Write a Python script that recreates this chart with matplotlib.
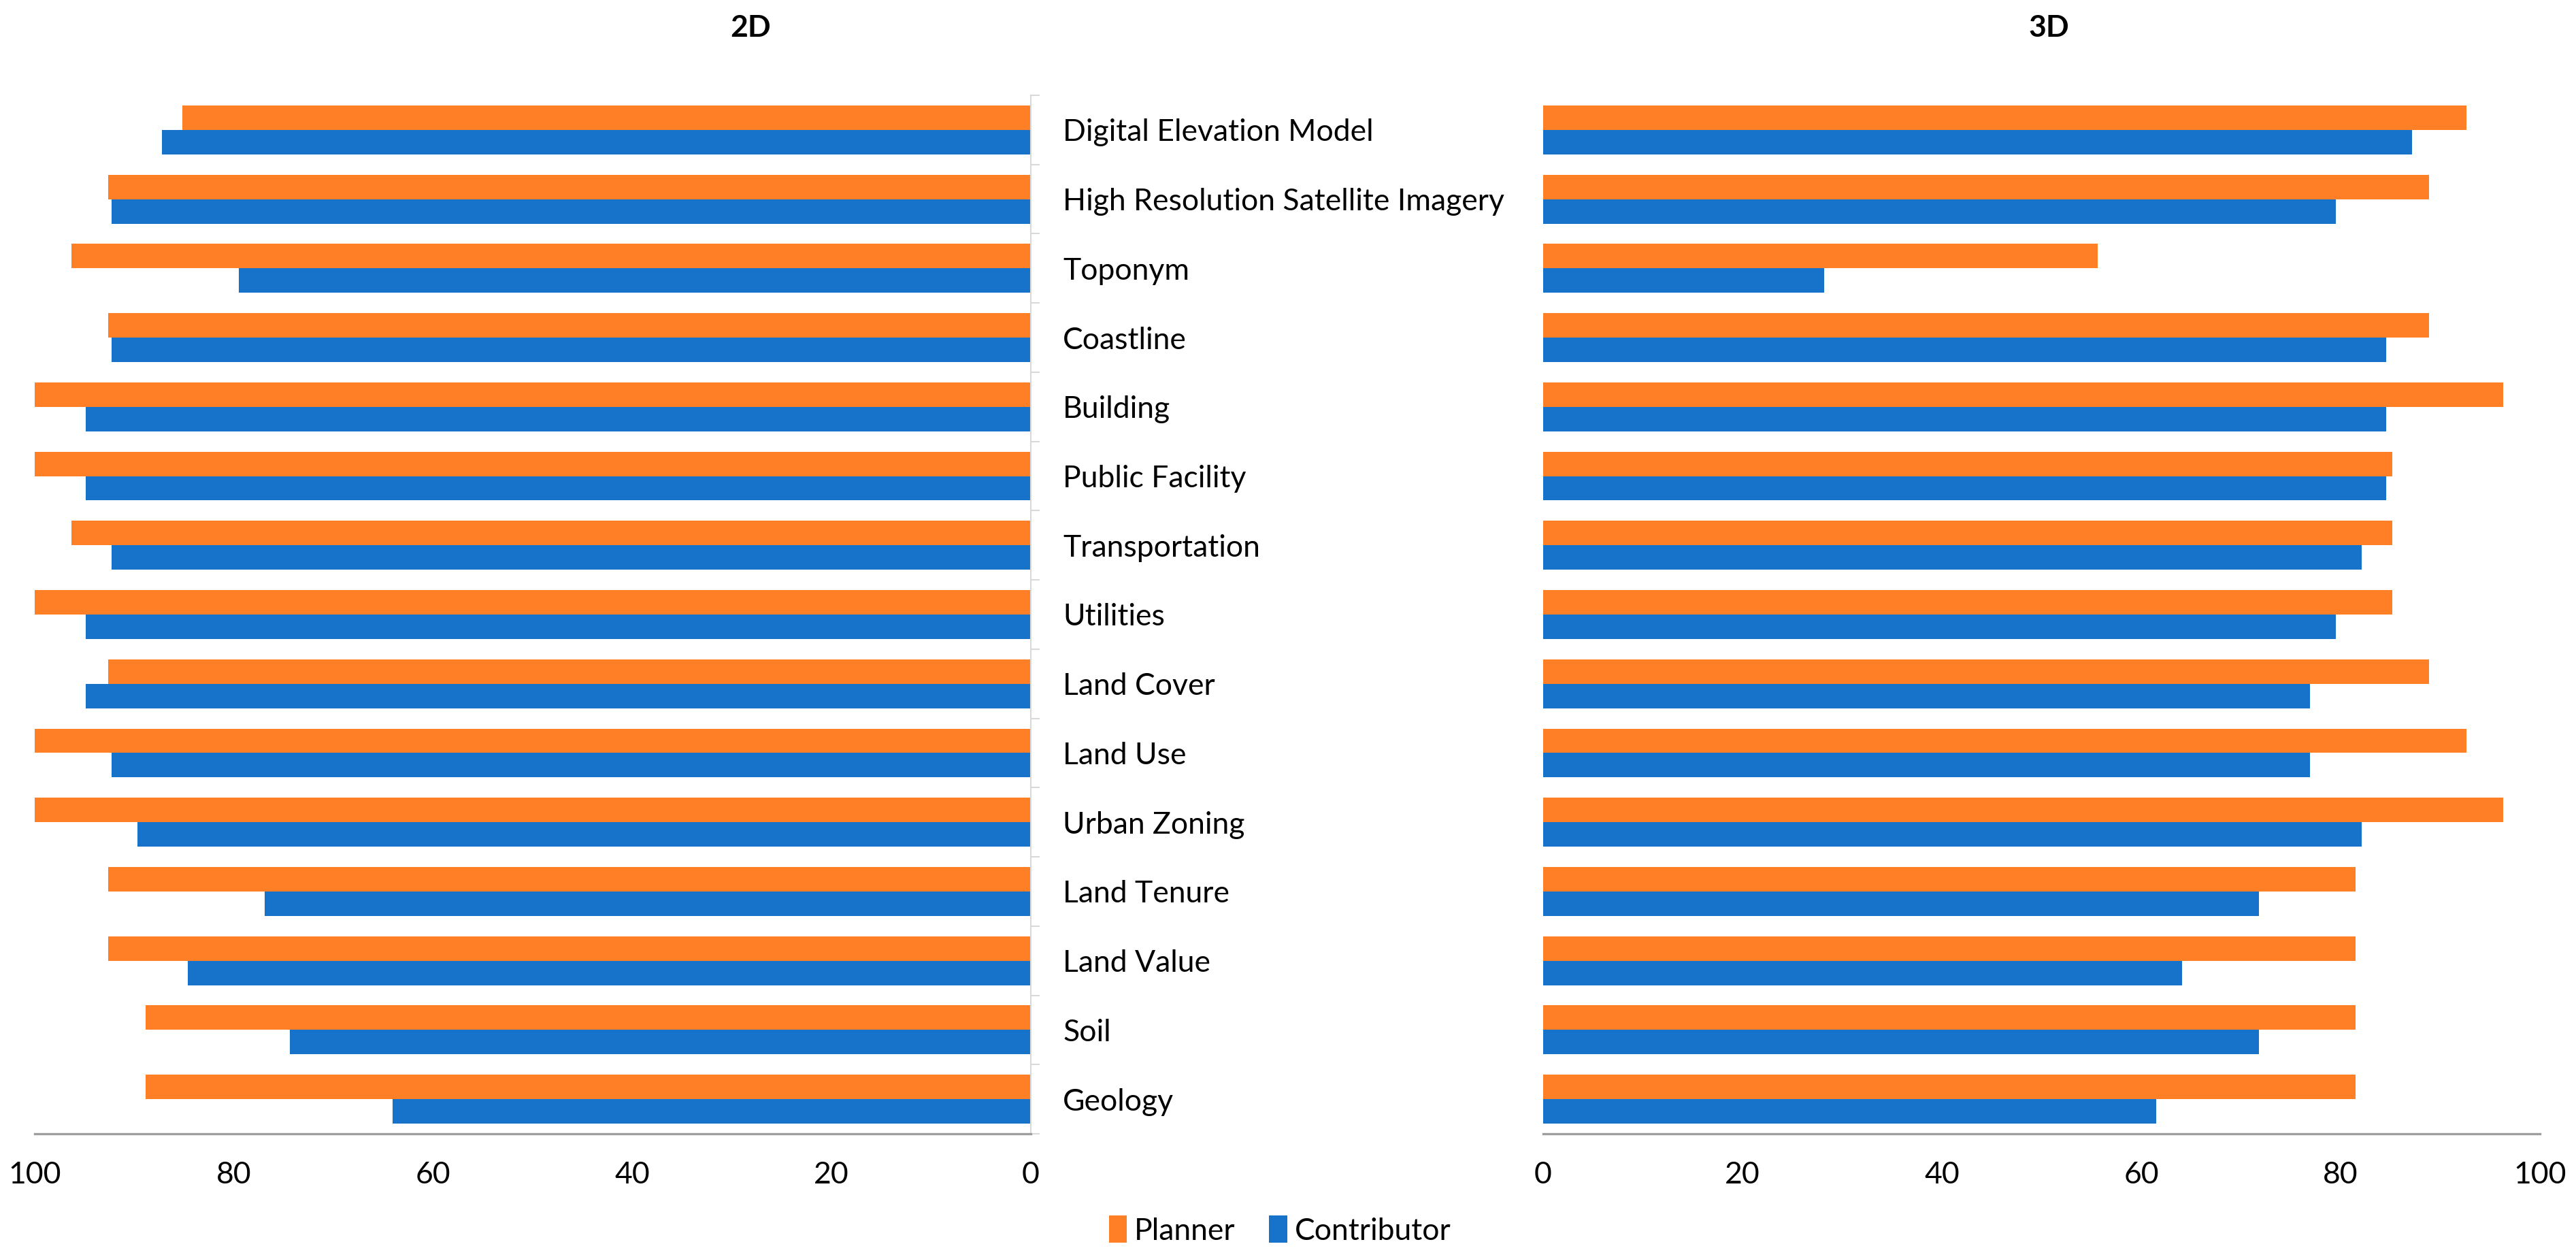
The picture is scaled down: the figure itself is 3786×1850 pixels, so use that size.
import matplotlib
matplotlib.use("Agg")
import matplotlib.pyplot as plt
import numpy as np

plt.rcParams['font.family'] = ['Lato', 'DejaVu Sans']

# data (percent)
categories = ["Digital Elevation Model", "High Resolution Satellite Imagery", "Toponym",
              "Coastline", "Building", "Public Facility", "Transportation", "Utilities",
              "Land Cover", "Land Use", "Urban Zoning", "Land Tenure", "Land Value",
              "Soil", "Geology"]
planner_2d = [85.2, 92.6, 96.3, 92.6, 100, 100, 96.3, 100, 92.6, 100, 100, 92.6, 92.6, 88.9, 88.9]
contrib_2d = [87.2, 92.3, 79.5, 92.3, 94.9, 94.9, 92.3, 94.9, 94.9, 92.3, 89.7, 76.9, 84.6, 74.4, 64.1]
planner_3d = [92.6, 88.9, 55.6, 88.9, 96.3, 85.2, 85.2, 85.2, 88.9, 92.6, 96.3, 81.5, 81.5, 81.5, 81.5]
contrib_3d = [87.2, 79.5, 28.2, 84.6, 84.6, 84.6, 82.1, 79.5, 76.9, 76.9, 82.1, 71.8, 64.1, 71.8, 61.5]
xticks = [0, 20, 40, 60, 80, 100]

ORANGE = '#FF7F27'
BLUE = '#1772C9'
FS = 32

W, H = 3786, 1850
fig = plt.figure(figsize=(W / 100, H / 100), dpi=100)

ax_l = fig.add_axes([51 / W, 1 - 1666 / H, 1464 / W, 1526 / H])
ax_r = fig.add_axes([2268 / W, 1 - 1666 / H, 1465 / W, 1526 / H])

y = np.arange(len(categories))
bh = 0.353

for ax, pl, co in [(ax_l, planner_2d, contrib_2d), (ax_r, planner_3d, contrib_3d)]:
    ax.barh(y - bh / 2, pl, height=bh, color=ORANGE, label='Planner')
    ax.barh(y + bh / 2, co, height=bh, color=BLUE, label='Contributor')
    ax.set_ylim(len(categories) - 0.5, -0.5)
    ax.set_xlim(0, 100)
    ax.set_xticks(xticks)
    ax.tick_params(axis='x', length=0, pad=29, labelsize=FS)
    ax.spines['top'].set_visible(False)
    ax.spines['bottom'].set_color('#9E9E9E')
    ax.spines['bottom'].set_linewidth(2.4)

# left panel: reversed, category axis on the right
ax_l.invert_xaxis()
ax_l.spines['left'].set_visible(False)
ax_l.spines['right'].set_color('#D9D9D9')
ax_l.spines['right'].set_linewidth(1.5)
ax_l.yaxis.tick_right()
ax_l.set_yticks(y)
ax_l.set_yticklabels(categories)
ax_l.set_yticks(np.arange(len(categories) + 1) - 0.5, minor=True)
ax_l.tick_params(axis='y', which='major', length=0, pad=34, labelsize=FS)
ax_l.tick_params(axis='y', which='minor', length=9, width=1.5, color='#D9D9D9')

ax_r.spines['left'].set_visible(False)
ax_r.spines['right'].set_visible(False)
ax_r.set_yticks([])

fig.text(1103 / W, 1 - 41 / H, "2D", ha='center', va='center', fontsize=FS, fontweight='bold')
fig.text(3011 / W, 1 - 41 / H, "3D", ha='center', va='center', fontsize=FS, fontweight='bold')

handles, labels = ax_l.get_legend_handles_labels()
fig.legend(handles, labels, loc='center', bbox_to_anchor=(1881 / W, 1 - 1808 / H), ncol=2,
           frameon=False, fontsize=FS, handlelength=0.6, handleheight=1.0,
           handletextpad=0.25, columnspacing=1.1)

fig.savefig("out.png", dpi=100)
